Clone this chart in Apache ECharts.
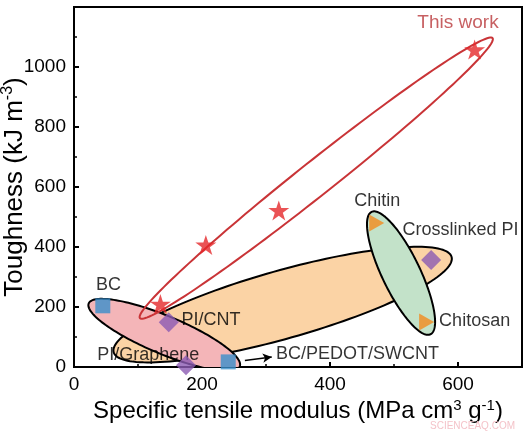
<!DOCTYPE html>
<html><head><meta charset="utf-8">
<script src="https://cdn.jsdelivr.net/npm/echarts@6/dist/echarts.min.js"></script>
<style>html,body{margin:0;padding:0;background:#fff}#c{width:529px;height:435px}</style>
</head><body><div id="c"></div><script>
// ---- data ----
const starX = [135, 206, 320, 626];
const starY = [210, 407, 522, 1058];
const squareNames = ['BC', 'BC/PEDOT/SWCNT'];
const squareX = [45, 241];
const squareY = [204, 17];
const diamondNames = ['PI/CNT', 'PI/Graphene', 'Crosslinked PI'];
const diamondX = [148, 175, 558];
const diamondY = [149, 6, 357];
const triangleNames = ['Chitin', 'Chitosan'];
const triangleX = [473, 551];
const triangleY = [480, 150];
// ellipses: major-axis end points in data units
const ellipseNames = ['PI', 'BC', 'Chitin/Chitosan', 'This work'];
const ellipseX1 = [62, 23, 465, 103];
const ellipseY1 = [49, 212, 517, 163];
const ellipseX2 = [590, 259, 557, 654];
const ellipseY2 = [367, 2, 109, 1096];
// annotation texts
const labelNames = ['BC', 'PI/CNT', 'PI/Graphene', 'BC/PEDOT/SWCNT', 'Chitin', 'Crosslinked PI', 'Chitosan'];
const labelX = [54, 214, 116, 443, 474, 604, 626];
const labelY = [273, 158, 39, 42, 552, 457, 153];
const titleName = 'This work';
const titleX = 600, titleY = 1146;
const arrowFrom = [267, 22];
const arrowTo = [309, 33];
const xMin = 0, xMax = 700, xStep = 200, xMinorStep = 100;
const yMin = 0, yMax = 1200, yStep = 200;

// ---- styles ----
const ellipseStyle = [
  {fill: '#fbd3a5', stroke: '#000', lineWidth: 2, halfWidth: 34},
  {fill: '#f4b5b8', stroke: '#000', lineWidth: 2, halfWidth: 19},
  {fill: '#c3e2c9', stroke: '#000', lineWidth: 2, halfWidth: 19},
  {fill: 'none', stroke: '#c93437', lineWidth: 2, halfWidth: 17}
];
const FONT = 'Liberation Sans, Arial, sans-serif';
const starPath = 'path://M50,2 L61.23,36.55 L97.55,36.55 L68.17,57.9 L79.39,92.45 L50,71.1 L20.61,92.45 L31.83,57.9 L2.45,36.55 L38.77,36.55 Z';

function renderEllipse(params, api) {
  const i = params.dataIndex;
  const p1 = api.coord([api.value(0), api.value(1)]);
  const p2 = api.coord([api.value(2), api.value(3)]);
  const cx = (p1[0] + p2[0]) / 2, cy = (p1[1] + p2[1]) / 2;
  const dx = p2[0] - p1[0], dy = p2[1] - p1[1];
  const a = Math.hypot(dx, dy) / 2, ang = Math.atan2(dy, dx);
  const st = ellipseStyle[i], b = st.halfWidth;
  const pts = [];
  const N = 160;
  for (let k = 0; k < N; k++) {
    const t = k / N * 2 * Math.PI;
    const ex = a * Math.cos(t), ey = b * Math.sin(t);
    pts.push([cx + ex * Math.cos(ang) - ey * Math.sin(ang), cy + ex * Math.sin(ang) + ey * Math.cos(ang)]);
  }
  const cs = params.coordSys;
  return {
    type: 'polygon', shape: {points: pts},
    style: {fill: st.fill, stroke: st.stroke, lineWidth: st.lineWidth},
    clipPath: {type: 'rect', shape: {x: cs.x, y: cs.y, width: cs.width, height: cs.height}}
  };
}

const chart = echarts.init(document.getElementById('c'), null, {renderer: 'canvas'});
const pairs = (xs, ys, names) => xs.map((x, i) => names ? {name: names[i], value: [x, ys[i]]} : [x, ys[i]]);
const plain = v => String(v);

chart.setOption({
  animation: false,
  backgroundColor: '#fff',
  grid: {left: 74, right: 7, top: 7, bottom: 68, containLabel: false, outerBoundsMode: 'none',
    show: true, borderColor: '#000', borderWidth: 2, backgroundColor: 'transparent'},
  xAxis: [{
    type: 'value', min: xMin, max: xMax, interval: xStep, position: 'bottom',
    name: 'Specific tensile modulus (MPa cm{sup|3} g{sup|-1})',
    nameLocation: 'middle', nameGap: 31, nameMoveOverlap: false,
    nameTextStyle: {fontSize: 24, color: '#000', fontFamily: FONT,
      rich: {sup: {fontSize: 15, fontFamily: FONT, color: '#000', padding: [0, 0, 12, 0]}}},
    axisLine: {lineStyle: {color: '#000', width: 2}},
    axisTick: {inside: true, length: 5, lineStyle: {color: '#000', width: 2}},
    axisLabel: {fontSize: 19, color: '#000', fontFamily: FONT, margin: 8, showMaxLabel: false, formatter: plain},
    splitLine: {show: false}
  }, {
    type: 'value', min: xMin, max: xMax, interval: xMinorStep, position: 'bottom',
    axisLine: {show: false},
    axisTick: {inside: true, length: 3, lineStyle: {color: '#000', width: 1.5}},
    axisLabel: {show: false}, splitLine: {show: false}
  }],
  yAxis: {
    type: 'value', min: yMin, max: yMax, interval: yStep,
    name: 'Toughness (kJ m{sup|-3})',
    nameLocation: 'middle', nameGap: 45, nameMoveOverlap: false,
    nameTextStyle: {fontSize: 26, color: '#000', fontFamily: FONT,
      rich: {sup: {fontSize: 16, fontFamily: FONT, color: '#000', padding: [0, 0, 13, 0]}}},
    axisLine: {lineStyle: {color: '#000', width: 2}},
    axisTick: {inside: true, length: 5, lineStyle: {color: '#000', width: 2}},
    minorTick: {show: true, splitNumber: 2, length: 3, lineStyle: {color: '#000', width: 1.5}},
    axisLabel: {fontSize: 19, color: '#000', fontFamily: FONT, margin: 8, showMaxLabel: false, formatter: plain},
    splitLine: {show: false}, minorSplitLine: {show: false}
  },
  series: [
    {
      type: 'custom', name: 'ellipses', renderItem: renderEllipse, z: 1,
      encode: {x: [0, 2], y: [1, 3]},
      data: ellipseNames.map((n, i) => ({name: n, value: [ellipseX1[i], ellipseY1[i], ellipseX2[i], ellipseY2[i]]}))
    },
    {
      type: 'scatter', name: 'labels', z: 3, symbolSize: 0, silent: true,
      data: pairs(labelX, labelY, labelNames),
      label: {show: true, position: 'inside', formatter: '{b}', fontSize: 18, color: '#000', fontFamily: FONT}
    },
    {
      type: 'scatter', name: 'title', z: 3, symbolSize: 0, silent: true,
      data: [{name: titleName, value: [titleX, titleY]}],
      label: {show: true, position: 'inside', formatter: '{b}', fontSize: 19, color: '#b9383b', fontFamily: FONT}
    },
    {
      type: 'line', name: 'arrow', z: 3, data: [], symbol: 'none',
      markLine: {
        silent: true, symbol: ['none', 'arrow'], symbolSize: [7, 9], label: {show: false},
        lineStyle: {color: '#000', width: 1.5, type: 'solid'},
        data: [[{coord: arrowFrom}, {coord: arrowTo}]]
      }
    },
    {
      type: 'scatter', name: 'This work', z: 5, symbol: starPath, symbolSize: [21, 20],
      itemStyle: {color: '#e5282b'}, data: pairs(starX, starY)
    },
    {
      type: 'scatter', name: 'squares', z: 5, symbol: 'rect', symbolSize: 15,
      itemStyle: {color: '#3a8fca'}, data: pairs(squareX, squareY, squareNames)
    },
    {
      type: 'scatter', name: 'diamonds', z: 5, symbol: 'diamond', symbolSize: [20, 20],
      itemStyle: {color: '#8c5bb3'}, data: pairs(diamondX, diamondY, diamondNames)
    },
    {
      type: 'scatter', name: 'triangles', z: 5, symbol: 'triangle', symbolRotate: -90, symbolSize: [17, 15],
      itemStyle: {color: '#f28b1e'}, data: pairs(triangleX, triangleY, triangleNames)
    }
  ],
  graphic: [{
    type: 'text', right: 14, bottom: 4, z: 10,
    style: {text: 'SCIENCEAQ.COM', fontSize: 10, fill: '#f4c3c9', fontFamily: FONT}
  }]
});
</script></body></html>
